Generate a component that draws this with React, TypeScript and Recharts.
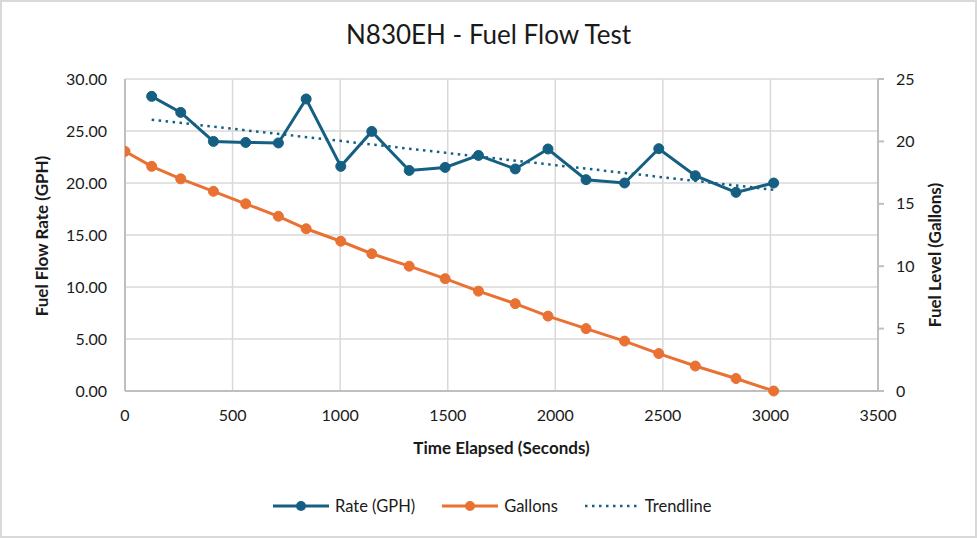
import { ComposedChart, Line, XAxis, YAxis, CartesianGrid } from "recharts";

const rateTimes = [124, 259, 411, 561, 713, 842, 1003, 1147, 1321, 1488, 1643, 1814, 1966, 2143, 2322, 2481, 2651, 2840, 3015];
const rateGph = [28.33, 26.79, 24.0, 23.9, 23.85, 28.08, 21.6, 24.96, 21.21, 21.5, 22.65, 21.35, 23.27, 20.32, 20.0, 23.3, 20.7, 19.1, 20.0];

const gallonTimes = [0, ...rateTimes];
const gallons = [19.2, 18, 17, 16, 15, 14, 13, 12, 11, 10, 9, 8, 7, 6, 5, 4, 3, 2, 1, 0];

const trendTimes = [124, 3015];
const trendGph = [26.09, 19.35];

const xTicks = [0, 500, 1000, 1500, 2000, 2500, 3000, 3500];
const leftTicks = [0, 5, 10, 15, 20, 25, 30];
const rightTicks = [0, 5, 10, 15, 20, 25];

const BLUE = "#156082";
const ORANGE = "#E97132";
const FONT = "Lato, 'Noto Sans', sans-serif";
const TEXT = "#1a1a1a";

const rateData = rateTimes.map((t, i) => ({ t, rate: rateGph[i] }));
const gallonData = gallonTimes.map((t, i) => ({ t, gallons: gallons[i] }));
const trendData = trendTimes.map((t, i) => ({ t, trend: trendGph[i] }));

const tickStyle = { fill: TEXT, fontSize: 16, fontFamily: FONT };
const titleStyle = { fill: TEXT, fontSize: 17, fontWeight: 700, fontFamily: FONT, textAnchor: "middle" as const };

// rotated axis title, placed from the axis viewBox
const sideTitle = (text: string, side: "left" | "right", dy: number) => (props: any) => {
  const vb = props.viewBox || {};
  const x = side === "left" ? vb.x + 40 : vb.x + vb.width - 40;
  const y = vb.y + vb.height / 2 + dy;
  return (
    <text x={x} y={y} transform={`rotate(-90 ${x} ${y})`} dy={6} style={titleStyle}>
      {text}
    </text>
  );
};

const LegendItem = ({ color, label, dotted, gap }: { color: string; label: string; dotted?: boolean; gap: number }) => (
  <div style={{ display: "flex", alignItems: "center", marginRight: gap }}>
    <svg width={56} height={14} style={{ marginRight: 6 }}>
      {dotted ? (
        <line x1={2} y1={7} x2={54} y2={7} stroke={color} strokeWidth={2.5} strokeDasharray="2.5 4.5" />
      ) : (
        <>
          <line x1={0} y1={7} x2={56} y2={7} stroke={color} strokeWidth={3} />
          <circle cx={28} cy={7} r={5} fill={color} />
        </>
      )}
    </svg>
    <span>{label}</span>
  </div>
);

export default function App() {
  return (
    <div
      style={{
        position: "absolute",
        left: 0,
        top: 0,
        width: 977,
        height: 538,
        boxSizing: "border-box",
        border: "2px solid #d9d9d9",
        background: "#fff",
        fontFamily: FONT,
        color: TEXT,
      }}
    >
      <div style={{ position: "absolute", left: 0, top: 0, width: 973, height: 534 }}>
        <ComposedChart width={973} height={534} margin={{ top: 77, right: 0, bottom: 115, left: 0 }}>
          <CartesianGrid yAxisId="left" stroke="#d9d9d9" strokeWidth={1.5} />
          <XAxis
            type="number"
            dataKey="t"
            domain={[0, 3500]}
            ticks={xTicks}
            allowDataOverflow
            tick={tickStyle}
            tickLine={false}
            tickSize={0}
            tickMargin={19}
            axisLine={{ stroke: "#bfbfbf", strokeWidth: 2 }}
            height={30}
            label={{ value: "Time Elapsed (Seconds)", position: "insideBottom", offset: -33, style: titleStyle }}
          />
          <YAxis
            yAxisId="left"
            orientation="left"
            domain={[0, 30]}
            ticks={leftTicks}
            width={123}
            tick={tickStyle}
            tickFormatter={(v: number) => v.toFixed(2)}
            tickLine={false}
            tickSize={0}
            tickMargin={18}
            axisLine={{ stroke: "#bfbfbf", strokeWidth: 2 }}
            label={sideTitle("Fuel Flow Rate (GPH)", "left", 1)}
          />
          <YAxis
            yAxisId="right"
            orientation="right"
            domain={[0, 25]}
            ticks={rightTicks}
            width={97}
            tick={{ ...tickStyle, textAnchor: "start" }}
            tickLine={{ stroke: "#bfbfbf", strokeWidth: 2 }}
            tickSize={6}
            tickMargin={12}
            axisLine={{ stroke: "#bfbfbf", strokeWidth: 2 }}
            label={sideTitle("Fuel Level (Gallons)", "right", 20)}
          />
          <Line
            yAxisId="left"
            data={trendData}
            dataKey="trend"
            stroke={BLUE}
            strokeWidth={2.5}
            strokeDasharray="2.5 4.5"
            dot={false}
            activeDot={false}
            isAnimationActive={false}
          />
          <Line
            yAxisId="right"
            data={gallonData}
            dataKey="gallons"
            stroke={ORANGE}
            strokeWidth={3}
            dot={{ r: 5, fill: ORANGE, stroke: ORANGE, strokeWidth: 1 }}
            activeDot={false}
            isAnimationActive={false}
          />
          <Line
            yAxisId="left"
            data={rateData}
            dataKey="rate"
            stroke={BLUE}
            strokeWidth={3}
            dot={{ r: 5, fill: BLUE, stroke: BLUE, strokeWidth: 1 }}
            activeDot={false}
            isAnimationActive={false}
          />
        </ComposedChart>
      </div>
      <div
        style={{
          position: "absolute",
          left: 0,
          top: 12,
          width: 973,
          textAlign: "center",
          fontSize: 26,
          lineHeight: "40px",
        }}
      >
        N830EH - Fuel Flow Test
      </div>
      <div
        style={{
          position: "absolute",
          left: 271,
          top: 494,
          display: "flex",
          fontSize: 16.5,
          lineHeight: "20px",
        }}
      >
        <LegendItem color={BLUE} label="Rate (GPH)" gap={27} />
        <LegendItem color={ORANGE} label="Gallons" gap={25} />
        <LegendItem color={BLUE} label="Trendline" dotted gap={0} />
      </div>
    </div>
  );
}
